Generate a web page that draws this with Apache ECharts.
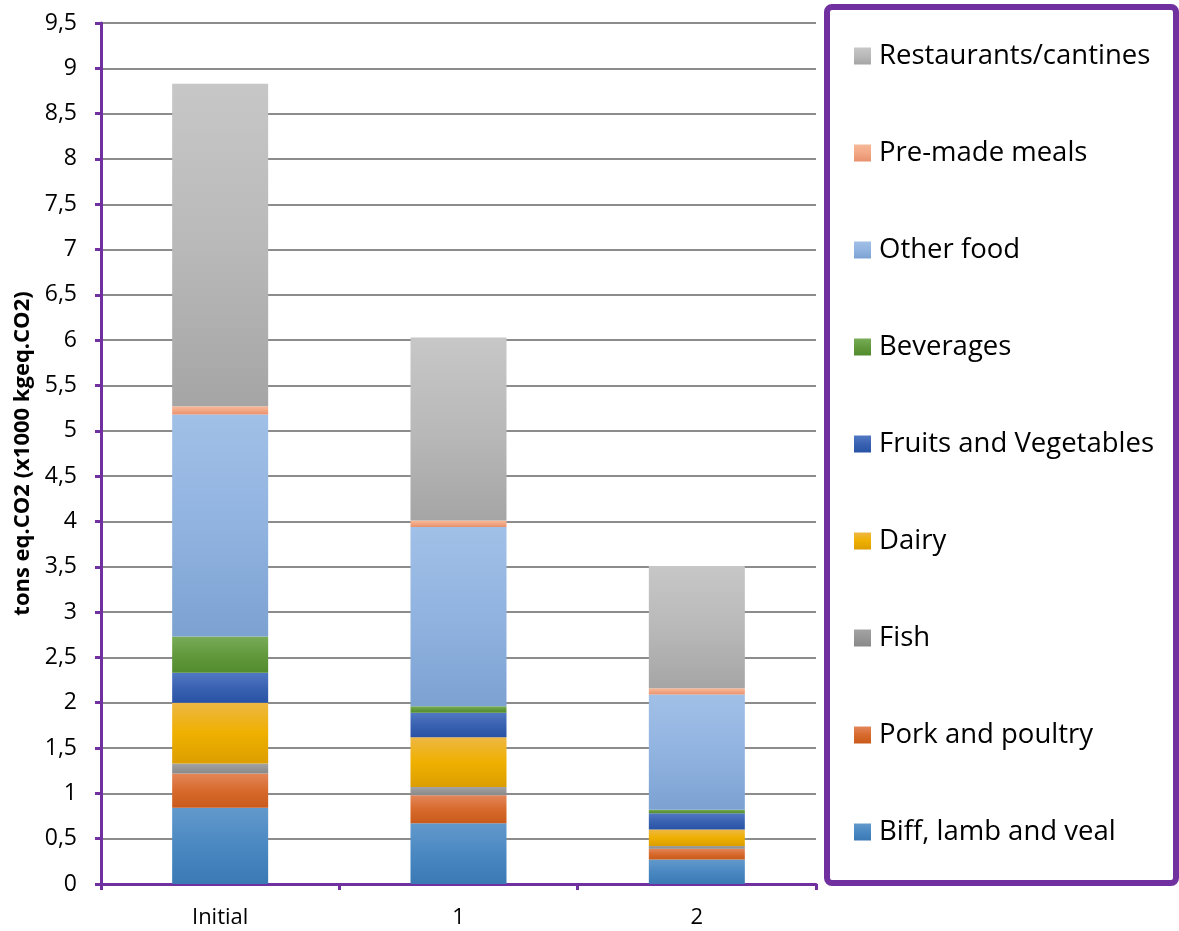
<!DOCTYPE html>
<html>
<head>
<meta charset="utf-8">
<style>
  html, body { margin: 0; padding: 0; background: #ffffff; }
  #chart { width: 1179px; height: 931px; }
</style>
<script src="https://cdn.jsdelivr.net/npm/echarts@6/dist/echarts.min.js"></script>
</head>
<body>
<div id="chart"></div>
<script>
// Scenarios on the category axis
const categories = ['Initial', '1', '2'];

// Emissions per food group, tons eq.CO2 (x1000 kgeq.CO2), stacked bottom to top
const biffLambVeal     = [0.84, 0.67, 0.27];
const porkPoultry      = [0.38, 0.31, 0.12];
const fish             = [0.11, 0.09, 0.03];
const dairy            = [0.67, 0.55, 0.18];
const fruitsVegetables = [0.33, 0.27, 0.18];
const beverages        = [0.40, 0.07, 0.04];
const otherFood        = [2.45, 1.98, 1.27];
const premadeMeals     = [0.09, 0.07, 0.07];
const restaurants      = [3.56, 2.02, 1.35];

// Value axis ticks
const yMin = 0, yMax = 9.5, yStep = 0.5;

const PURPLE = '#7030a0';
const FONT = '"Open Sans", "Noto Sans", sans-serif';

function grad(top, mid, bottom) {
  return new echarts.graphic.LinearGradient(0, 0, 0, 1, [
    { offset: 0, color: top },
    { offset: 0.5, color: mid },
    { offset: 1, color: bottom }
  ]);
}

const seriesDefs = [
  { name: 'Biff, lamb and veal',  data: biffLambVeal,     color: grad('#6299cb', '#4a88c2', '#3b79b5') },
  { name: 'Pork and poultry',     data: porkPoultry,      color: grad('#e4865a', '#d76a2c', '#c95a1b') },
  { name: 'Fish',                 data: fish,             color: grad('#a3a3a3', '#969696', '#898989') },
  { name: 'Dairy',                data: dairy,            color: grad('#eeb744', '#efb000', '#dc9e00') },
  { name: 'Fruits and Vegetables',data: fruitsVegetables, color: grad('#5078c2', '#3a62b2', '#2852a5') },
  { name: 'Beverages',            data: beverages,        color: grad('#78ac58', '#62993d', '#528c2e') },
  { name: 'Other food',           data: otherFood,        color: grad('#a1c0e7', '#91b3e0', '#7ca2d2') },
  { name: 'Pre-made meals',       data: premadeMeals,     color: grad('#f6b998', '#f2a785', '#e8916c') },
  { name: 'Restaurants/cantines', data: restaurants,      color: grad('#c7c7c7', '#b9b9b9', '#a5a5a5') }
];

const chart = echarts.init(document.getElementById('chart'), null, { renderer: 'canvas' });

chart.setOption({
  animation: false,
  backgroundColor: '#ffffff',
  grid: { left: 101, right: 363, top: 23, bottom: 47, containLabel: false },
  graphic: [{
    type: 'rect',
    z: -1,
    shape: { x: 827, y: 7, width: 349, height: 876, r: 5 },
    style: { fill: '#ffffff', stroke: PURPLE, lineWidth: 6 }
  }],
  legend: {
    orient: 'vertical',
    left: 849,
    top: 36,
    itemWidth: 17,
    itemHeight: 17,
    itemGap: 67,
    icon: 'rect',
    selectedMode: false,
    data: seriesDefs.map(s => s.name).reverse(),
    textStyle: { fontFamily: FONT, fontSize: 27.5, color: '#000000', lineHeight: 30, padding: [0, 0, 0, 3] }
  },
  xAxis: {
    type: 'category',
    data: categories,
    axisLine: { show: true, lineStyle: { color: PURPLE, width: 3 } },
    axisTick: { show: true, length: 6, lineStyle: { color: PURPLE, width: 3 } },
    axisLabel: { fontFamily: FONT, fontSize: 22, color: '#000000', margin: 23 }
  },
  yAxis: {
    type: 'value',
    min: yMin,
    max: yMax,
    interval: yStep,
    name: 'tons eq.CO2 (x1000 kgeq.CO2)',
    nameLocation: 'middle',
    nameGap: 66,
    nameTextStyle: { fontFamily: FONT, fontSize: 22, fontWeight: 'bold', color: '#000000' },
    axisLine: { show: true, lineStyle: { color: PURPLE, width: 3 } },
    axisTick: { show: true, length: 6, lineStyle: { color: PURPLE, width: 3 } },
    axisLabel: {
      fontFamily: FONT, fontSize: 23, color: '#000000', margin: 24,
      formatter: v => String(v).replace('.', ',')
    },
    splitLine: { show: true, lineStyle: { color: '#8c8c8c', width: 2 } }
  },
  series: seriesDefs.map(s => ({
    name: s.name,
    type: 'bar',
    stack: 'total',
    barWidth: 96,
    data: s.data,
    itemStyle: { color: s.color }
  }))
});
</script>
</body>
</html>
